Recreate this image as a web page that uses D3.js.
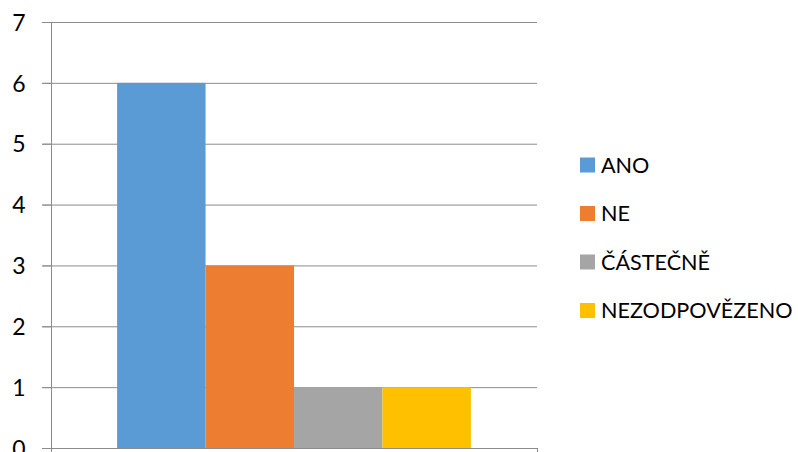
<!DOCTYPE html>
<html>
<head>
<meta charset="utf-8">
<script src="https://cdn.jsdelivr.net/npm/d3@7"></script>
<style>
  body { margin: 0; background: #fff; }
  svg { display: block; font-family: Lato, "Open Sans", sans-serif; }
</style>
</head>
<body>
<svg id="chart" width="798" height="452"></svg>
<script>
// data
const categories = [''];
const series = ['ANO', 'NE', 'ČÁSTEČNĚ', 'NEZODPOVĚZENO'];
const values = [6, 3, 1, 1];
const colors = ['#5B9BD5', '#ED7D31', '#A5A5A5', '#FFC000'];
const yTicks = [0, 1, 2, 3, 4, 5, 6, 7];

const svg = d3.select('#chart');
const plot = { left: 51, right: 537, top: 22, bottom: 448 };

const y = d3.scaleLinear().domain([0, 7]).range([plot.bottom, plot.top]);
const x0 = d3.scaleBand().domain(categories).range([plot.left, plot.right]);
const gap = x0.bandwidth() * 0.136;
const x1 = d3.scaleBand().domain(series).range([gap, x0.bandwidth() - gap]);

// gridlines
svg.append('g')
    .selectAll('line')
    .data(yTicks.filter(d => d > 0))
    .join('line')
    .attr('x1', plot.left - 9)
    .attr('x2', plot.right)
    .attr('y1', d => y(d) + 0.5)
    .attr('y2', d => y(d) + 0.5)
    .attr('stroke', '#8c8c8c')
    .attr('stroke-width', 1);

// bars
const g = svg.append('g').attr('transform', `translate(${x0('')},0)`);
g.selectAll('rect')
    .data(series)
    .join('rect')
    .attr('x', d => x1(d))
    .attr('y', (d, i) => y(values[i]))
    .attr('width', x1.bandwidth())
    .attr('height', (d, i) => y(0) - y(values[i]))
    .attr('fill', (d, i) => colors[i]);

// y axis
const yAxis = svg.append('g')
    .attr('transform', `translate(${plot.left + 0.5},0)`)
    .call(d3.axisLeft(y).tickValues(yTicks).tickSize(9).tickPadding(17).tickFormat(d3.format('d')));
yAxis.select('.domain').attr('stroke', '#8c8c8c').attr('d', `M0,${plot.bottom}V${plot.top}`);
yAxis.selectAll('.tick line').attr('stroke', '#8c8c8c');
yAxis.selectAll('.tick text')
    .attr('fill', '#000')
    .style('font-size', '23px')
    .style('font-family', 'Lato, sans-serif')
    .attr('dy', '0.36em');

// x axis
svg.append('line')
    .attr('x1', plot.left - 9).attr('x2', plot.right)
    .attr('y1', plot.bottom + 0.5).attr('y2', plot.bottom + 0.5)
    .attr('stroke', '#8c8c8c');
svg.selectAll('.xtick')
    .data([plot.left, plot.right])
    .join('line')
    .attr('class', 'xtick')
    .attr('x1', d => d + 0.5).attr('x2', d => d + 0.5)
    .attr('y1', plot.bottom).attr('y2', plot.bottom + 9)
    .attr('stroke', '#8c8c8c');

// legend
const legend = svg.append('g')
    .selectAll('g')
    .data(series)
    .join('g')
    .attr('transform', (d, i) => `translate(580,${165 + i * 48.5})`);
legend.append('rect')
    .attr('x', 0).attr('y', -7.5)
    .attr('width', 15).attr('height', 15)
    .attr('fill', (d, i) => colors[i]);
legend.append('text')
    .attr('x', 21)
    .attr('dy', '0.36em')
    .style('font-size', '21.6px')
    .attr('fill', '#000')
    .text(d => d);
</script>
</body>
</html>
